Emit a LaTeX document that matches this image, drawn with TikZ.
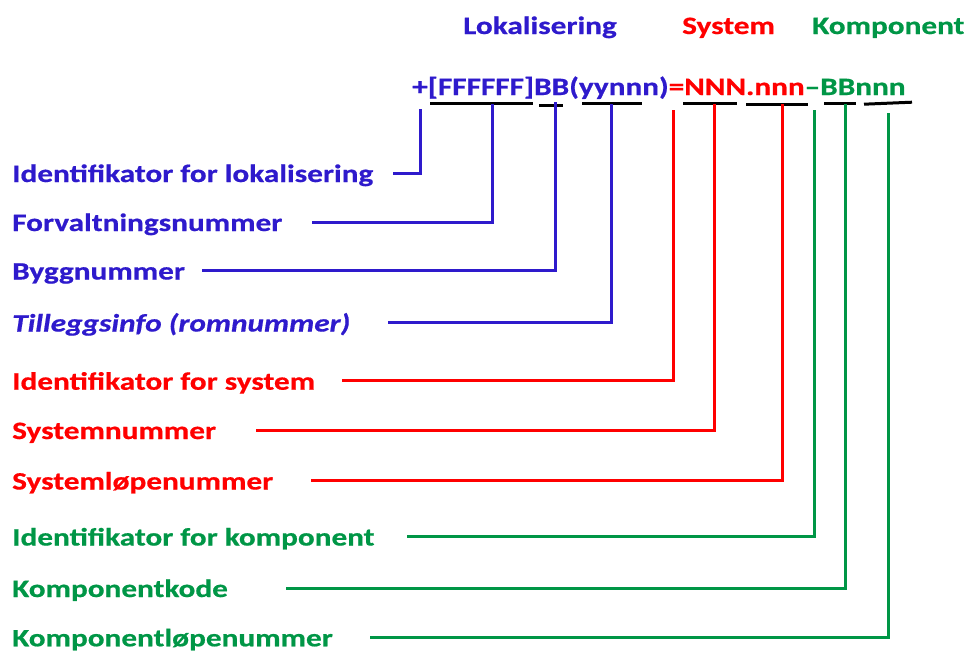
\documentclass[tikz,border=0pt]{standalone}
\usepackage{fontspec}
\setmainfont{Carlito}[FakeStretch=1.25, FakeBold=0.6]
\definecolor{lokblue}{RGB}{46,26,204}
\definecolor{sysred}{RGB}{255,0,0}
\definecolor{kompgreen}{RGB}{0,150,70}
\tikzset{
  txt/.style={anchor=base west, inner sep=0pt, font=\fontsize{25}{29}\selectfont\bfseries},
  lead/.style={line width=3pt},
  uline/.style={line width=3pt, black},
}
\begin{document}
\begin{tikzpicture}[x=1pt, y=-1pt]
\useasboundingbox (0,0) rectangle (973,651);

% group headings
\node[txt, text=lokblue]   (hLok) at (463,34) {Lokalisering};
\node[txt, text=sysred]    (hSys) at (682,34) {System};
\node[txt, text=kompgreen] (hKomp) at (812,34) {Komponent};

% the reference designation
\node[txt] (code) at (412,95)
  {\textcolor{lokblue}{+[FFFFFF]BB(yynnn)}\textcolor{sysred}{=NNN.nnn}\textcolor{kompgreen}{–BBnnn}};

% underlines of the fields
\draw[uline] (430,103.7) -- (533,103.7);
\draw[uline] (539,105.3) -- (563,105.3);
\draw[uline] (582,103.7) -- (642,103.7);
\draw[uline] (683,103.7) -- (737,103.7);
\draw[uline] (746,104.2) -- (808,104.2);
\draw[uline] (824,103.7) -- (856,103.7);
\draw[uline] (864,104.2) -- (912,102.2);

% labels
\node[txt, text=lokblue] (l1) at (12,182)   {Identifikator for lokalisering};
\node[txt, text=lokblue] (l2) at (12,231)   {Forvaltningsnummer};
\node[txt, text=lokblue] (l3) at (12,279.5) {Byggnummer};
\node[txt, text=lokblue] (l4) at (12,331.5) {\itshape Tilleggsinfo (romnummer)};
\node[txt, text=sysred]  (l5) at (12,389.7) {Identifikator for system};
\node[txt, text=sysred]  (l6) at (12,439)   {Systemnummer};
\node[txt, text=sysred]  (l7) at (12,489.5) {Systemløpenummer};
\node[txt, text=kompgreen] (l8) at (12,545.5) {Identifikator for komponent};
\node[txt, text=kompgreen] (l9) at (12,597)   {Komponentkode};
\node[txt, text=kompgreen] (l10) at (12,646.3) {Komponentløpenummer};

% connector start points beside the labels
\coordinate (s1) at (393,173);
\coordinate (s2) at (312,222);
\coordinate (s3) at (202,270.5);
\coordinate (s4) at (388,322.5);
\coordinate (s5) at (342,380.7);
\coordinate (s6) at (256,430);
\coordinate (s7) at (311,480.5);
\coordinate (s8) at (407,536.5);
\coordinate (s9) at (286,588);
\coordinate (s10) at (370,637.3);

% connector end points under the fields
\coordinate (e1) at (420.5,109);
\coordinate (e2) at (492,104);
\coordinate (e3) at (555.5,102);
\coordinate (e4) at (611,104);
\coordinate (e5) at (673,110);
\coordinate (e6) at (714,104);
\coordinate (e7) at (782,104);
\coordinate (e8) at (814,110);
\coordinate (e9) at (845,104);
\coordinate (e10) at (888.5,113);

\draw[lead, lokblue] (s1) -| (e1);
\draw[lead, lokblue] (s2) -| (e2);
\draw[lead, lokblue] (s3) -| (e3);
\draw[lead, lokblue] (s4) -| (e4);
\draw[lead, sysred] (s5) -| (e5);
\draw[lead, sysred] (s6) -| (e6);
\draw[lead, sysred] (s7) -| (e7);
\draw[lead, kompgreen] (s8) -| (e8);
\draw[lead, kompgreen] (s9) -| (e9);
\draw[lead, kompgreen] (s10) -| (e10);
\end{tikzpicture}
\end{document}
